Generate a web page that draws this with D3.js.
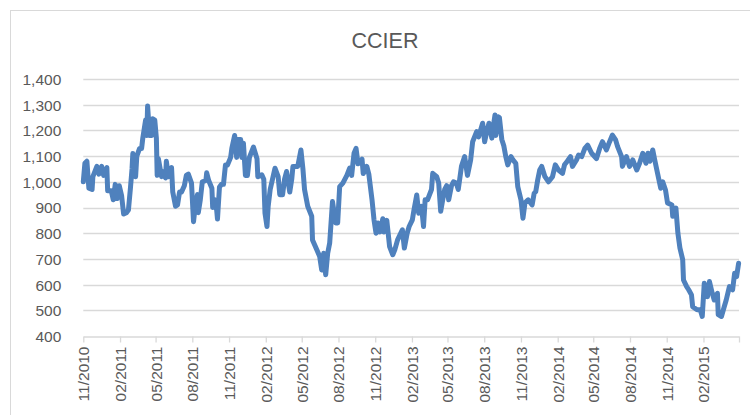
<!DOCTYPE html>
<html>
<head>
<meta charset="utf-8">
<script src="https://cdnjs.cloudflare.com/ajax/libs/d3/7.8.5/d3.min.js"></script>
<style>
  body { margin: 0; background: #fff; }
  text { font-family: "Liberation Sans", Arial, sans-serif; fill: #595959; }
</style>
</head>
<body>
<div id="chart"></div>
<script>
//Data
var title = "CCIER";

var dates = [
  "2010-11-01","2010-11-05","2010-11-10","2010-11-15","2010-11-23","2010-11-25","2010-12-05","2010-12-10","2010-12-17","2010-12-22","2010-12-30",
  "2011-01-01","2011-01-10","2011-01-15","2011-01-20","2011-01-25","2011-01-30","2011-02-05","2011-02-10","2011-02-17","2011-02-22","2011-02-27",
  "2011-03-03","2011-03-05","2011-03-12","2011-03-15","2011-03-22","2011-03-27","2011-03-30","2011-04-06","2011-04-09","2011-04-11","2011-04-16",
  "2011-04-21","2011-04-24","2011-04-29","2011-05-03","2011-05-05","2011-05-08","2011-05-16","2011-05-18","2011-05-26","2011-05-28","2011-06-02",
  "2011-06-10","2011-06-13","2011-06-20","2011-06-25","2011-06-30","2011-07-05","2011-07-12","2011-07-17","2011-07-22","2011-07-30","2011-08-04",
  "2011-08-09","2011-08-14","2011-08-16","2011-08-21","2011-08-26","2011-09-04","2011-09-06","2011-09-11","2011-09-19","2011-09-21","2011-09-26",
  "2011-10-01","2011-10-03","2011-10-08","2011-10-13","2011-10-18","2011-10-23","2011-10-28","2011-11-05","2011-11-08","2011-11-15","2011-11-20",
  "2011-11-23","2011-11-30","2011-12-03","2011-12-07","2011-12-12","2011-12-17","2011-12-22",
  "2012-01-01","2012-01-10","2012-01-12","2012-01-22","2012-01-27","2012-01-30","2012-02-04","2012-02-07","2012-02-12","2012-02-24","2012-03-03",
  "2012-03-07","2012-03-14","2012-03-19","2012-03-24","2012-04-01","2012-04-06","2012-04-09","2012-04-21","2012-04-29","2012-05-04","2012-05-08",
  "2012-05-16","2012-05-26","2012-05-28","2012-06-08","2012-06-15","2012-06-20","2012-06-25","2012-06-30","2012-07-05","2012-07-10","2012-07-17",
  "2012-07-25","2012-07-30","2012-08-04","2012-08-12","2012-08-22","2012-08-29","2012-09-03","2012-09-09","2012-09-14","2012-09-19","2012-09-29",
  "2012-10-02","2012-10-11","2012-10-16","2012-10-24","2012-10-29","2012-11-03","2012-11-08","2012-11-13","2012-11-20","2012-11-23","2012-11-30",
  "2012-12-07","2012-12-15","2012-12-20","2012-12-27",
  "2013-01-08","2013-01-13","2013-01-20","2013-01-25","2013-02-02","2013-02-06","2013-02-13","2013-02-18","2013-02-25","2013-03-02","2013-03-06",
  "2013-03-12","2013-03-22","2013-03-25","2013-04-04","2013-04-09","2013-04-14","2013-04-19","2013-04-24","2013-04-29","2013-05-04","2013-05-11",
  "2013-05-16","2013-05-23","2013-05-28","2013-06-05","2013-06-13","2013-06-20","2013-06-28","2013-07-03","2013-07-13","2013-07-18","2013-07-28",
  "2013-08-02","2013-08-08","2013-08-13","2013-08-20","2013-08-23","2013-08-28","2013-08-30","2013-09-05","2013-09-08","2013-09-14","2013-09-19",
  "2013-09-24","2013-09-29","2013-10-07","2013-10-12","2013-10-19","2013-10-24","2013-11-01","2013-11-06","2013-11-11","2013-11-19","2013-11-29",
  "2013-12-04","2013-12-08","2013-12-13","2013-12-18","2013-12-23","2013-12-31",
  "2014-01-09","2014-01-19","2014-01-26","2014-02-03","2014-02-13","2014-02-18","2014-02-25","2014-03-05","2014-03-10","2014-03-20","2014-03-25",
  "2014-04-02","2014-04-10","2014-04-17","2014-04-27","2014-05-09","2014-05-17","2014-05-24","2014-06-03","2014-06-11","2014-06-18","2014-06-26",
  "2014-07-01","2014-07-11","2014-07-13","2014-07-23","2014-07-31","2014-08-08","2014-08-18","2014-08-25","2014-09-02","2014-09-10","2014-09-15",
  "2014-09-20","2014-09-27","2014-10-02","2014-10-09","2014-10-17","2014-10-22","2014-10-29","2014-11-03","2014-11-14","2014-11-16","2014-11-24",
  "2014-11-29","2014-12-04","2014-12-11","2014-12-13","2014-12-21","2014-12-26",
  "2015-01-02","2015-01-05","2015-01-16","2015-01-24","2015-01-29","2015-02-03","2015-02-11","2015-02-16","2015-02-23","2015-02-28","2015-03-08",
  "2015-03-10","2015-03-18","2015-03-25","2015-03-30","2015-04-07","2015-04-15","2015-04-20","2015-04-25","2015-04-30"
];

var values = [
  1000,1072,1080,975,970,1020,1060,1030,1060,1025,1055,
  965,965,930,990,935,985,945,875,880,890,975,
  1050,1110,1020,1100,1130,1130,1170,1240,1180,1295,1180,
  1180,1245,1240,1170,1025,1090,1020,1040,1015,1080,1020,
  1055,960,905,910,960,960,985,1025,1030,995,845,
  915,950,880,930,1000,1005,1035,1005,975,900,930,
  890,855,980,990,990,1065,1065,1095,1130,1180,1095,
  1165,1165,1095,1150,1025,1025,1095,
  1135,1090,1020,1027,1010,878,826,905,970,1053,1020,
  950,950,1010,1040,960,1010,1060,1060,1124,1050,970,
  905,866,774,735,709,657,722,638,722,762,923,
  840,840,981,995,1025,1053,1025,1111,1130,1070,1088,
  1032,1060,1030,930,852,800,840,805,856,805,850,
  748,716,735,774,
  813,742,800,826,852,890,949,878,905,826,930,
  930,970,1033,1020,995,885,930,970,985,930,985,
  1000,995,970,1060,1098,1025,1085,1156,1195,1175,1228,
  1156,1200,1228,1170,1208,1260,1180,1253,1250,1165,1140,
  1098,1066,1098,1085,1072,981,930,858,918,930,910,
  955,962,1008,1046,1060,1020,
  1000,1020,1066,1046,1033,1066,1080,1098,1060,1085,1104,
  1098,1130,1143,1111,1090,1130,1156,1124,1156,1182,1163,
  1137,1098,1060,1098,1060,1085,1046,1072,1111,1072,1111,
  1080,1124,1085,1033,975,1000,968,918,910,866,898,
  800,743,697,618,592,580,
  560,514,502,502,476,605,553,612,566,540,566,
  483,476,514,540,592,580,644,631,683
];

var yTicks = [400, 500, 600, 700, 800, 900, 1000, 1100, 1200, 1300, 1400];
var xTickDates = ["2010-11-01","2011-02-01","2011-05-01","2011-08-01","2011-11-01","2012-02-01","2012-05-01","2012-08-01","2012-11-01",
  "2013-02-01","2013-05-01","2013-08-01","2013-11-01","2014-02-01","2014-05-01","2014-08-01","2014-11-01","2015-02-01","2015-05-01"];
var xDomain = ["2010-11-01", "2015-05-01"];

var W = 750, H = 415;
var margin = {top: 79, right: 11, bottom: 79, left: 83.3};

var parse = d3.timeParse("%Y-%m-%d");
var fmt = d3.timeFormat("%m/%Y");

var data = dates.map(function(d, i){ return {date: parse(d), value: values[i]}; });

var svg = d3.select("#chart").append("svg")
  .attr("width", W)
  .attr("height", H);

//chart area border
svg.append("rect")
  .attr("x", 10.5)
  .attr("y", 10.5)
  .attr("width", 900)
  .attr("height", 900)
  .attr("fill", "none")
  .attr("stroke", "#d9d9d9");

var x = d3.scaleTime()
  .domain(xDomain.map(parse))
  .range([margin.left, W - margin.right]);

var y = d3.scaleLinear()
  .domain([400, 1400])
  .range([H - margin.bottom, margin.top]);

//title
svg.append("text")
  .attr("x", 385)
  .attr("y", 48)
  .attr("text-anchor", "middle")
  .attr("font-size", "21.5px")
  .text(title);

//gridlines
svg.append("g")
  .selectAll("line")
  .data(yTicks.slice(1))
  .enter()
  .append("line")
  .attr("x1", x.range()[0])
  .attr("x2", x.range()[1])
  .attr("y1", function(d){ return Math.round(y(d)) + 0.5; })
  .attr("y2", function(d){ return Math.round(y(d)) + 0.5; })
  .attr("stroke", "#d9d9d9")
  .attr("stroke-width", 1.3);

//y axis labels
var yAxis = svg.append("g")
  .attr("transform", "translate(" + (margin.left - 19) + ",0)")
  .call(d3.axisLeft(y).tickValues(yTicks).tickSize(0).tickFormat(d3.format(",")));
yAxis.select(".domain").remove();
yAxis.attr("font-family", null);
yAxis.selectAll("text")
  .attr("font-size", "15.5px")
  .attr("fill", "#595959")
  .attr("dy", "0.35em");

//x axis
var xAxis = svg.append("g")
  .attr("transform", "translate(0," + (Math.round(y(400)) + 0.5) + ")")
  .call(d3.axisBottom(x).tickValues(xTickDates.map(parse)).tickSize(6).tickSizeOuter(0)
    .tickFormat(function(d){ return d < x.domain()[1] ? fmt(d) : ""; }));
xAxis.attr("font-family", null);
xAxis.select(".domain").attr("stroke", "#d9d9d9").attr("stroke-width", 1.3);
xAxis.selectAll(".tick line").attr("stroke", "#d9d9d9").attr("stroke-width", 1.3);
xAxis.selectAll("text")
  .attr("font-size", "15.5px")
  .attr("fill", "#595959")
  .attr("text-anchor", "end")
  .attr("transform", "rotate(-90)")
  .attr("x", -10)
  .attr("y", 0)
  .attr("dy", "0.35em");

//the series
var line = d3.line()
  .x(function(d){ return x(d.date); })
  .y(function(d){ return y(d.value); });

svg.append("path")
  .datum(data)
  .attr("d", line)
  .attr("fill", "none")
  .attr("stroke", "#4f81bd")
  .attr("stroke-width", 5)
  .attr("stroke-linejoin", "round")
  .attr("stroke-linecap", "round");
</script>
</body>
</html>
